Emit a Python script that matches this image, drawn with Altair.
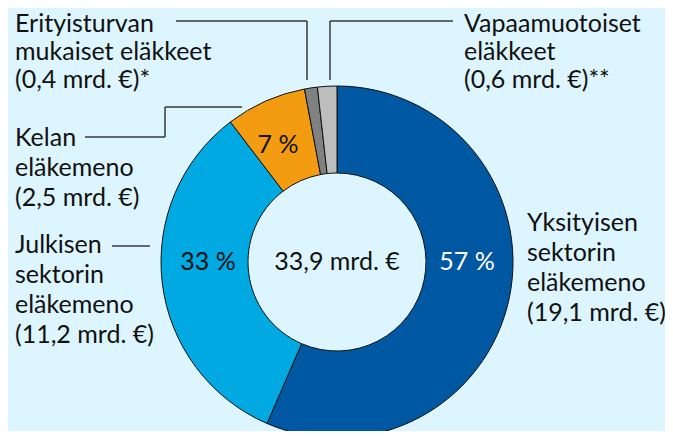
import altair as alt
import pandas as pd

# --- data ---
categories = ["Yksityisen sektorin eläkemeno", "Julkisen sektorin eläkemeno",
              "Kelan eläkemeno", "Erityisturvan mukaiset eläkkeet", "Vapaamuotoiset eläkkeet"]
values = [19.1, 11.2, 2.5, 0.4, 0.6]
colors = ["#0058A2", "#00A9E2", "#F39C12", "#808281", "#BDBDBD"]
order = [1, 2, 3, 4, 5]

pct_text = ["57 %", "33 %", "7 %"]
pct_color = ["white", "#111111", "#111111"]
pct_x = [467, 208, 278]
pct_y = [262, 262, 145]

center_text = "33,9 mrd. €"

label_lines = [
    "Erityisturvan", "mukaiset eläkkeet", "(0,4 mrd. €)*",
    "Vapaamuotoiset", "eläkkeet", "(0,6 mrd. €)**",
    "Kelan", "eläkemeno", "(2,5 mrd. €)",
    "Julkisen", "sektorin", "eläkemeno", "(11,2 mrd. €)",
    "Yksityisen", "sektorin", "eläkemeno", "(19,1 mrd. €)",
]
label_x = [15, 15, 15, 464, 464, 464, 15, 15, 15, 15, 15, 15, 15, 527, 527, 527, 527]
label_y = [24, 52, 80, 24, 52, 80, 138, 168, 198, 245, 275, 305, 335, 223, 253, 283, 313]

seg_x = [176, 307, 330, 330, 85, 165, 165, 112]
seg_y = [21, 21, 80, 21, 137, 137, 107, 246]
seg_x2 = [307, 307, 330, 453, 165, 165, 242, 150]
seg_y2 = [21, 80, 21, 21, 137, 107, 107, 246]

W, H = 657, 423
CX, CY = 337 - 8, 262 - 8
FONT = "Lato"
FS = 25

pie_df = pd.DataFrame({"cat": categories, "val": values, "ord": order})
pct_df = pd.DataFrame({"t": pct_text, "c": pct_color, "x": pct_x, "y": pct_y})
lab_df = pd.DataFrame({"t": label_lines, "x": label_x, "y": label_y})
seg_df = pd.DataFrame({"x": seg_x, "y": seg_y, "x2": seg_x2, "y2": seg_y2})
ctr_df = pd.DataFrame({"t": [center_text], "x": [337], "y": [262]})

xs = alt.Scale(domain=[8, 8 + W], range=[0, W])
ys = alt.Scale(domain=[8, 8 + H], range=[0, H])

arcs = alt.Chart(pie_df).mark_arc(
    outerRadius=176, innerRadius=89, stroke="#111111", strokeWidth=1
).encode(
    theta=alt.Theta("val:Q", stack=True),
    order=alt.Order("ord:Q"),
    color=alt.Color("cat:N", scale=alt.Scale(domain=categories, range=colors), legend=None),
    x=alt.value(CX), y=alt.value(CY),
)

segs = alt.Chart(seg_df).mark_rule(color="#3A3A3A", strokeWidth=1.5).encode(
    x=alt.X("x:Q", scale=xs, axis=None), y=alt.Y("y:Q", scale=ys, axis=None),
    x2="x2:Q", y2="y2:Q",
)

labels = alt.Chart(lab_df).mark_text(
    align="left", baseline="middle", font=FONT, fontSize=FS, color="#111111"
).encode(x=alt.X("x:Q", scale=xs, axis=None), y=alt.Y("y:Q", scale=ys, axis=None), text="t:N")

pcts = alt.Chart(pct_df).mark_text(
    align="center", baseline="middle", font=FONT, fontSize=FS
).encode(x=alt.X("x:Q", scale=xs, axis=None), y=alt.Y("y:Q", scale=ys, axis=None),
         text="t:N", color=alt.Color("c:N", scale=None))

ctr = alt.Chart(ctr_df).mark_text(
    align="center", baseline="middle", font=FONT, fontSize=FS, color="#111111"
).encode(x=alt.X("x:Q", scale=xs, axis=None), y=alt.Y("y:Q", scale=ys, axis=None), text="t:N")

chart = alt.layer(arcs, segs, labels, pcts, ctr).properties(
    width=W, height=H, background="#DDF5FE", padding=0,
    autosize=alt.AutoSizeParams(type="none"),
).configure_view(stroke=None)

chart.save("out.html", embed_options={"renderer": "svg", "actions": False})
